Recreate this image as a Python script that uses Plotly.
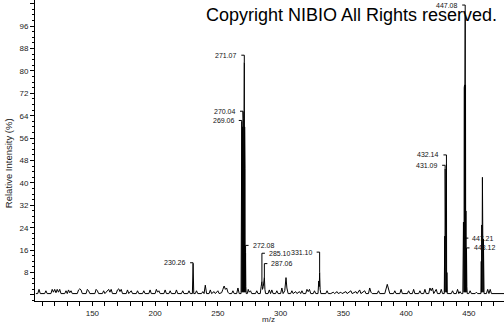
import plotly.graph_objects as go

# ---------------- data ----------------
# baseline noise of the profile spectrum (m/z, relative intensity %)
noise_mz = [105, 106.5, 107.5, 108.5, 112, 113, 114, 117, 118, 119, 120, 121, 122, 123, 124, 125,
            128, 129, 130, 131, 132, 133, 134, 138, 139, 140, 141, 142, 145, 146, 147, 148,
            152, 153, 154, 155, 158, 159, 160, 162, 163, 164, 165, 166, 169, 170, 171, 172, 173, 174,
            177, 178, 179, 181, 182, 185, 186, 187, 190, 191, 192, 195, 196, 197, 200, 201, 202, 203, 204,
            207, 208, 209, 211, 212, 213, 216, 217, 218, 221, 222, 223, 226, 227, 228,
            232, 233, 234, 237, 238, 239, 240, 241, 243, 244, 245, 247, 248, 250, 251, 253, 254, 255,
            256, 257, 258, 259, 261, 262, 263, 265, 266, 267,
            273.5, 274.2, 275, 276, 277, 280, 281, 282, 283.8,
            290, 291, 292, 293, 294, 296, 297, 298, 300, 301, 302,
            308, 309, 310, 312, 313, 315, 316, 317, 318, 320, 321, 322, 323, 324, 326, 327, 328,
            336, 337, 338, 340, 342, 343, 345, 346, 348, 349, 352, 353, 356, 357, 360, 361, 363, 364,
            367, 368, 370, 371, 372, 373, 377, 378, 379, 383, 385, 387, 390, 391, 392, 395, 396, 397,
            401, 402, 403, 405, 406, 407, 410, 411, 412, 414, 415, 416, 418, 419, 420, 421, 422, 424,
            425, 427, 428, 429,
            434, 436, 437, 438, 440, 441, 442, 443, 444,
            450, 451, 452, 455, 456, 457,
            464, 465, 466, 467, 468, 470, 478]
noise_int = [0.5, 0.5, 2, 0.5, 0.5, 1.5, 0.5, 0.5, 2, 1, 2, 0.8, 2, 1, 2, 0.5,
             0.5, 1.5, 0.5, 1.8, 0.8, 1.5, 0.5, 0.5, 1.8, 2.2, 1.8, 0.5, 0.5, 2, 1.5, 0.5,
             0.5, 2, 1.5, 0.5, 0.5, 1.5, 0.5, 1.8, 2, 1, 2, 0.5, 0.5, 1.8, 2.2, 1.2, 2, 0.5,
             0.5, 1.8, 0.5, 1.5, 0.5, 0.5, 1.5, 0.5, 0.5, 1.5, 0.5, 0.5, 1.8, 0.5, 0.5, 2, 1, 1.5, 0.5,
             0.5, 1.8, 0.5, 0.5, 1.5, 0.5, 0.5, 1.8, 0.5, 0.5, 1.5, 0.5, 0.5, 1.5, 0.5,
             0.5, 1.5, 0.5, 0.5, 1.2, 0.5, 3.5, 0.5, 0.5, 1.8, 0.5, 1.2, 0.5, 1.5, 0.5, 0.8, 2, 3.2,
             2, 2.5, 1, 0.5, 0.5, 1.5, 0.5, 0.5, 2.5, 0.5,
             0.5, 2, 1, 1.5, 0.5, 0.5, 1.5, 0.5, 0.5,
             0.5, 1.8, 0.5, 1.8, 0.5, 0.5, 1.5, 0.5, 0.5, 2.5, 0.5,
             0.5, 1.5, 0.5, 1.2, 0.5, 1.2, 0.5, 1.5, 0.5, 0.5, 2, 1.2, 2, 0.5, 0.5, 1.5, 0.5,
             0.5, 1.5, 0.5, 0.5, 1, 0.5, 1.2, 0.5, 1, 0.5, 1.2, 0.5, 1.5, 0.5, 1.2, 0.5, 1.8, 0.5,
             1.5, 0.5, 0.5, 2.5, 1, 0.5, 0.5, 1.5, 0.5, 0.5, 3.8, 0.5, 0.5, 1.5, 0.5, 0.5, 2, 0.5,
             0.5, 1.5, 0.5, 0.5, 2, 0.5, 0.5, 1.5, 0.5, 0.5, 2, 0.5, 0.5, 2.5, 1.5, 2.5, 0.5, 2,
             0.5, 0.5, 2, 0.5,
             0.5, 0.5, 1.5, 0.5, 0.5, 2, 0.5, 1.2, 0.5,
             0.5, 1.5, 0.5, 0.5, 1, 0.5,
             0.5, 2, 0.5, 2, 0.5, 0.5, 0.5]

# peak clusters (profile points around the ions)
peak_mz = [229.7, 230.26, 230.8,
           268.5, 268.7, 268.85, 269.06, 269.2, 269.35, 269.5, 269.65, 269.8, 269.9, 270.04,
           270.15, 270.3, 270.45, 270.6, 270.75, 270.9, 271.07, 271.2, 271.35, 271.5, 271.65,
           271.8, 271.9, 272.08, 272.3, 272.6,
           284.5, 285.10, 285.6, 286.2, 286.7, 287.06, 287.5, 288,
           303.3, 304.3, 305, 306,
           329.8, 330.4, 330.8, 331.10, 331.5, 332.1,
           430.4, 430.8, 430.95, 431.09, 431.25, 431.4, 431.55, 431.7, 431.85, 432.0, 432.14,
           432.3, 432.5, 432.8,
           445.2, 445.7, 446.0, 446.15, 446.3, 446.45, 446.6, 446.75, 446.9, 447.08, 447.21,
           447.35, 447.5, 447.65, 447.8, 448.12, 448.4, 448.7,
           459.6, 459.9, 460.1, 460.3, 460.5, 460.65, 460.8, 461.0, 461.2, 461.4, 461.6,
           461.8, 462.1]
peak_int = [0.5, 11.3, 0.5,
            0.5, 35, 1, 62, 1, 58, 1, 60, 1, 62, 65.5,
            1, 63, 1, 62, 1, 60, 83, 1, 60, 1, 45,
            1, 10, 15, 3, 0.5,
            3, 4.8, 2, 3, 5, 6.3, 2, 0.5,
            1.5, 6.2, 2.5, 0.5,
            0.5, 5, 3, 8, 2, 0.5,
            0.5, 21, 1, 45, 1, 21, 1, 22, 1, 20, 47,
            1, 8, 0.5,
            0.5, 26, 3, 1, 74, 1, 75, 1, 75, 100, 20,
            75, 1, 30, 1, 16, 3, 0.5,
            0.5, 12, 1, 25, 1, 25, 42, 1, 25, 1, 20,
            8, 0.5]

# annotated ions
label_text = ["230.26", "269.06", "270.04", "271.07", "272.08", "285.10", "287.06",
              "331.10", "431.09", "432.14", "447.08", "447.21", "448.12"]
label_height = [11.5, 62.3, 65.6, 85.6, 17.7, 14.9, 11.2, 15.3, 46.3, 50.0, 103.5, 20.3, 16.8]
label_side = ["left", "left", "left", "left", "right", "right", "right",
              "left", "left", "left", "left", "right", "right"]

y_tick_vals = [0, 8, 16, 24, 32, 40, 48, 56, 64, 72, 80, 88, 96, 104]
y_tick_text = ["", "8", "16", "24", "32", "40", "48", "56", "64", "72", "80", "88", "96", ""]
x_tick_vals = [150, 200, 250, 300, 350, 400, 450]
x_tick_text = ["150", "200", "250", "300", "350", "400", "450"]

# ---------------- build ----------------
pts = sorted(zip(noise_mz + peak_mz, noise_int + peak_int))
xs = [p[0] for p in pts]
ys = [p[1] for p in pts]
lookup = dict(zip(peak_mz, peak_int))

fig = go.Figure()
fig.add_trace(go.Scatter(x=xs, y=ys, mode="lines",
                         line=dict(color="black", width=1), hoverinfo="skip",
                         showlegend=False))

FONT = "Arial, Liberation Sans, sans-serif"
shapes = []
annotations = []
for txt, h, side in zip(label_text, label_height, label_side):
    mz = float(txt)
    peak = lookup[mz]
    # vertical leader from label height down to the peak apex
    if h > peak:
        shapes.append(dict(type="line", xref="x", yref="y", x0=mz, x1=mz, y0=h, y1=peak,
                           line=dict(color="black", width=1)))
    # short horizontal tick
    off = -3 if side == "left" else 3
    shapes.append(dict(type="line", xref="x", yref="y", xsizemode="pixel", xanchor=mz,
                       x0=0, x1=off, y0=h, y1=h, line=dict(color="black", width=1)))
    annotations.append(dict(x=mz, y=h, xref="x", yref="y", text=txt, showarrow=False,
                            xanchor="right" if side == "left" else "left",
                            xshift=-5 if side == "left" else 5, yanchor="middle",
                            font=dict(family=FONT, size=7, color="#111")))

annotations.append(dict(x=1.0, y=0.95, xref="paper", yref="paper", xanchor="right",
                        yanchor="middle", showarrow=False, xshift=-5,
                        text="Copyright NIBIO All Rights reserved.",
                        font=dict(family=FONT, size=18, color="black")))
annotations.append(dict(x=0, y=0.458, xref="paper", yref="paper", xshift=-27,
                        xanchor="center", yanchor="middle", showarrow=False, textangle=-90,
                        text="Relative Intensity (%)",
                        font=dict(family=FONT, size=9.5, color="#222")))
annotations.append(dict(x=0.498, y=0, xref="paper", yref="paper", yshift=-18,
                        xanchor="center", yanchor="middle", showarrow=False,
                        text="m/z", font=dict(family=FONT, size=8, color="#222")))

fig.update_layout(
    width=504, height=325,
    margin=dict(l=35, r=0, t=0, b=24),
    paper_bgcolor="white", plot_bgcolor="white",
    shapes=shapes, annotations=annotations,
    xaxis=dict(range=[104.3, 478], tickvals=x_tick_vals, ticktext=x_tick_text,
               ticks="outside", ticklen=4, tickcolor="black", showgrid=False,
               zeroline=False, showline=True, linecolor="black", linewidth=1,
               tickfont=dict(family=FONT, size=8, color="#222"),
               minor=dict(dtick=10, tick0=0, ticks="outside", ticklen=4,
                          tickcolor="black", showgrid=False)),
    yaxis=dict(range=[-2.15, 105.3], tickvals=y_tick_vals, ticktext=y_tick_text,
               ticks="outside", ticklen=4, tickcolor="black", showgrid=False,
               zeroline=False, showline=True, linecolor="black", linewidth=1,
               tickfont=dict(family=FONT, size=8, color="#222"),
               minor=dict(dtick=2, tick0=0, ticks="outside", ticklen=2,
                          tickcolor="black", showgrid=False)),
)

fig.write_html("out.html")
